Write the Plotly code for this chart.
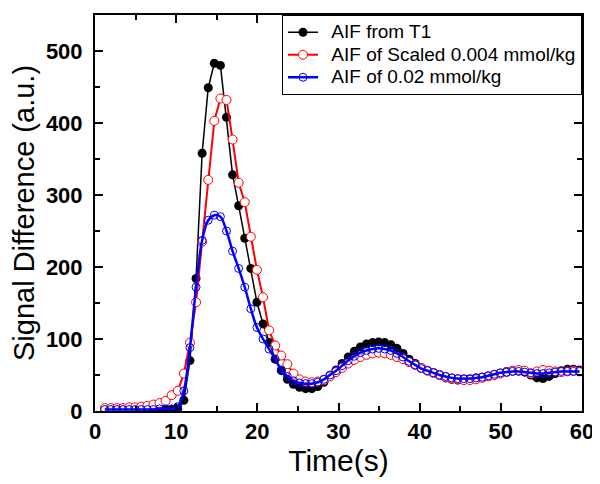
import plotly.graph_objects as go

time_s = [1.2, 1.95, 2.7, 3.45, 4.2, 4.95, 5.7, 6.45, 7.2, 7.95,
          8.7, 9.45, 10.2, 10.95, 11.7, 12.45, 13.2, 13.95, 14.7, 15.45,
          16.2, 16.95, 17.7, 18.45, 19.2, 19.95, 20.7, 21.45, 22.2, 22.95,
          23.7, 24.45, 25.2, 25.95, 26.7, 27.45, 28.2, 28.95, 29.7, 30.45,
          31.2, 31.95, 32.7, 33.45, 34.2, 34.95, 35.7, 36.45, 37.2, 37.95,
          38.7, 39.45, 40.2, 40.95, 41.7, 42.45, 43.2, 43.95, 44.7, 45.45,
          46.2, 46.95, 47.7, 48.45, 49.2, 49.95, 50.7, 51.45, 52.2, 52.95,
          53.7, 54.45, 55.2, 55.95, 56.7, 57.45, 58.2, 58.95, 59.7]

aif_t1 = [2, 2, 2, 2, 2, 2, 2, 2, 2, 2,
          2, 2, 3, 15, 70, 184, 358, 449, 483, 480,
          408, 328, 285, 240, 198, 151, 121, 95, 72, 56,
          44, 37, 33, 31, 31, 34, 40, 48, 57, 66,
          75, 83, 89, 93, 95, 96, 95, 92, 87, 80,
          72, 66, 60, 56, 53, 50, 46, 44, 43, 43,
          44, 46, 47, 48, 50, 52, 55, 56, 56, 54,
          50, 46, 45, 48, 52, 56, 58, 58, 57]

aif_scaled = [4, 4, 4, 4, 5, 5, 6, 7, 9, 11,
              14, 22, 28, 52, 95, 151, 235, 321, 403, 434,
              432, 377, 317, 290, 242, 196, 158, 112, 91, 77,
              65, 52, 44, 41, 40, 41, 43, 48, 54, 60,
              66, 71, 75, 78, 80, 81, 80, 78, 75, 72,
              68, 64, 60, 56, 53, 50, 47, 45, 44, 43,
              43, 44, 46, 48, 50, 52, 54, 56, 57, 56,
              52, 55, 57, 56, 55, 54, 55, 56, 55]

aif_002 = [2, 2, 2, 2, 2, 2, 2, 2, 2, 3,
           3, 3, 6, 28, 88, 172, 237, 265, 272, 270,
           250, 222, 198, 172, 142, 116, 100, 86, 72, 57,
           48, 42, 39, 38, 38, 40, 44, 50, 56, 63,
           70, 76, 81, 84, 86, 87, 86, 84, 80, 75,
           69, 64, 59, 56, 53, 50, 48, 46, 45, 45,
           45, 46, 47, 49, 51, 53, 54, 55, 55, 54,
           53, 52, 52, 53, 54, 55, 55, 55, 55]

series_names = ["AIF from T1", "AIF of Scaled 0.004 mmol/kg", "AIF of 0.02 mmol/kg"]

FONT = "Arial, Liberation Sans, sans-serif"


def legend_label(name):
    return "\u00a0\u00a0<span style='font-size:19px'>" + name + "</span>"


fig = go.Figure()
fig.add_trace(go.Scatter(
    x=time_s, y=aif_t1, name=legend_label(series_names[0]), mode="lines+markers",
    line=dict(color="black", width=1.5),
    marker=dict(symbol="circle", size=9, color="black"),
))
fig.add_trace(go.Scatter(
    x=time_s, y=aif_scaled, name=legend_label(series_names[1]), mode="lines+markers",
    line=dict(color="#ff0000", width=2),
    marker=dict(symbol="circle", size=9, color="white",
                line=dict(color="#ff0000", width=1)),
))
fig.add_trace(go.Scatter(
    x=time_s, y=aif_002, name=legend_label(series_names[2]), mode="lines+markers",
    line=dict(color="#0000ff", width=2.5, shape="spline"),
    marker=dict(symbol="circle-open", size=8, color="#0000ff",
                line=dict(width=1)),
))

axis_common = dict(
    showline=True, linecolor="black", linewidth=2, mirror="ticks",
    ticks="inside", ticklen=8, tickwidth=2, tickcolor="black",
    showgrid=False, zeroline=False, automargin=False,
    tickfont=dict(family=FONT, size=22, color="black", weight="bold"),
)

fig.update_xaxes(
    range=[0, 60], dtick=10, tick0=0,
    minor=dict(ticks="inside", ticklen=5, tickwidth=2, dtick=5, tickcolor="black"),
    title=dict(text="Time(s)", font=dict(family=FONT, size=30, color="black"), standoff=4),
    **axis_common,
)
fig.update_yaxes(
    range=[0, 550], dtick=100, tick0=0, ticklabelstandoff=6,
    minor=dict(ticks="inside", ticklen=5, tickwidth=2, dtick=50, tickcolor="black"),
    title=dict(text="Signal Difference (a.u.)", font=dict(family=FONT, size=29, color="black"), standoff=15),
    **axis_common,
)

# the page body has an 8px default margin, so the figure is sized to fit the 600x484 window
fig.update_layout(
    width=592, height=476,
    margin=dict(l=87, r=18, t=7, b=73),
    plot_bgcolor="white", paper_bgcolor="white",
    legend=dict(
        x=1, y=1, xanchor="right", yanchor="top",
        bgcolor="white", bordercolor="black", borderwidth=1,
        font=dict(family=FONT, size=15, color="black"),
        tracegroupgap=0,
    ),
)

fig.write_html("out.html")
